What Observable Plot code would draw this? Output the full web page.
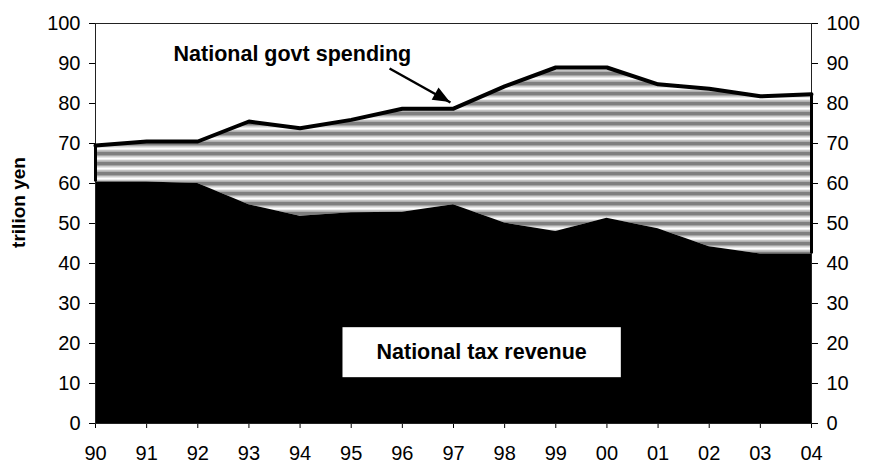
<!DOCTYPE html>
<html><head><meta charset="utf-8">
<script src="https://cdn.jsdelivr.net/npm/d3@7"></script>
<script src="https://cdn.jsdelivr.net/npm/@observablehq/plot@0.6"></script>
<style>body{margin:0;background:#fff}</style>
</head><body><div id="chart"></div>
<script>
const years = [1990,1991,1992,1993,1994,1995,1996,1997,1998,1999,2000,2001,2002,2003,2004];
const spending = [69.5,70.5,70.5,75.5,73.8,75.9,78.7,78.7,84.3,89.0,89.0,84.8,83.7,81.8,82.3];
const taxRevenue = [60.4,60.4,60.0,54.7,51.8,52.7,52.8,54.7,50.1,48.0,51.3,48.7,44.2,42.4,42.4];
const yTicks = [0,10,20,30,40,50,60,70,80,90,100];
const yAxisLabel = ["trilion yen"];
const labels = [
  {text: "National govt spending", x: 1993.85, y: 92.4},
  {text: "National tax revenue", x: 1997.55, y: 17.8}
];
const arrows = [{x1: 1995.75, y1: 88.75, x2: 1996.94, y2: 80.25}];

const rows = years.map((year, i) => ({year, spending: spending[i], tax: taxRevenue[i]}));
const font = "'Liberation Sans', Arial, Helvetica, sans-serif";

const plot = Plot.plot({
  width: 874, height: 464,
  marginLeft: 95, marginRight: 63, marginTop: 23, marginBottom: 41,
  style: {fontFamily: font, fontSize: "20px", color: "#000", background: "#fff", overflow: "visible"},
  x: {domain: [1990, 2004], ticks: years, tickFormat: d => String(d).slice(2), tickSize: 5, tickPadding: 17, label: null},
  y: {domain: [0, 100], ticks: yTicks, axis: "both", tickSize: 6, tickPadding: 9, label: null},
  marks: [
    Plot.areaY(rows, {x: "year", y1: "tax", y2: "spending", fill: "url(#stripes)"}),
    Plot.areaY(rows, {x: "year", y: "tax", fill: "#000"}),
    Plot.frame({stroke: "#222", strokeWidth: 1}),
    Plot.ruleX([rows[0], rows[rows.length - 1]], {x: "year", y1: "tax", y2: "spending", stroke: "#000", strokeWidth: 3}),
    Plot.lineY(rows, {x: "year", y: "spending", stroke: "#000", strokeWidth: 4}),
    Plot.link(arrows, {x1: "x1", y1: "y1", x2: "x2", y2: "y2", stroke: "#000", strokeWidth: 2.5}),
    Plot.text(labels, {x: "x", y: "y", text: "text", fontWeight: "bold", fontSize: 21.5, fill: "#000"}),
    Plot.text(yAxisLabel, {text: d => d, frameAnchor: "left", textAnchor: "middle", dx: -77, dy: -21, rotate: -90, fontWeight: "bold", fontSize: 19, fill: "#000"})
  ]
});

document.getElementById("chart").appendChild(plot);
const svgEl = plot.tagName.toLowerCase() === "svg" ? plot : plot.querySelector("svg");
const svg = d3.select(svgEl);

// stripe pattern
const defs = svg.insert("defs", ":first-child");
const pat = defs.append("pattern").attr("id", "stripes")
  .attr("patternUnits", "userSpaceOnUse").attr("width", 10).attr("height", 10);
pat.append("rect").attr("width", 10).attr("height", 10).attr("fill", "#fff");
[[0, 1.5, "#c4c4c4"], [1.5, 3.5, "#7f7f7f"], [5, 1, "#a6a6a6"], [6, 1.5, "#cfcfcf"], [9.2, 0.8, "#e6e6e6"]]
  .forEach(([y, h, c]) => pat.append("rect").attr("y", y).attr("width", 10).attr("height", h).attr("fill", c));

// arrowhead
const xs = plot.scale("x"), ys = plot.scale("y");
const sx = d3.scaleLinear(xs.domain, xs.range), sy = d3.scaleLinear(ys.domain, ys.range);
arrows.forEach(a => {
  const x1 = sx(a.x1), y1 = sy(a.y1), x2 = sx(a.x2), y2 = sy(a.y2);
  const len = Math.hypot(x2 - x1, y2 - y1), ux = (x2 - x1) / len, uy = (y2 - y1) / len;
  const L = 17, W = 7;
  const bx = x2 - L * ux, by = y2 - L * uy;
  svg.append("polygon").attr("fill", "#000")
    .attr("points", `${x2},${y2} ${bx - W * uy},${by + W * ux} ${bx + W * uy},${by - W * ux}`);
});

// white box behind tax label
svg.selectAll("text").each(function() {
  if (this.textContent === "National tax revenue") {
    const bb = this.getBBox();
    const cx = bb.x + bb.width / 2, cy = bb.y + bb.height / 2;
    const w = bb.width + 68, h = 50;
    const r = document.createElementNS("http://www.w3.org/2000/svg", "rect");
    r.setAttribute("x", cx - w / 2); r.setAttribute("y", cy - h / 2);
    r.setAttribute("width", w); r.setAttribute("height", h);
    r.setAttribute("fill", "#fff"); r.setAttribute("stroke", "none");
    const t = this.getAttribute("transform");
    if (t) r.setAttribute("transform", t);
    this.parentNode.insertBefore(r, this);
  }
});
</script>
</body></html>
